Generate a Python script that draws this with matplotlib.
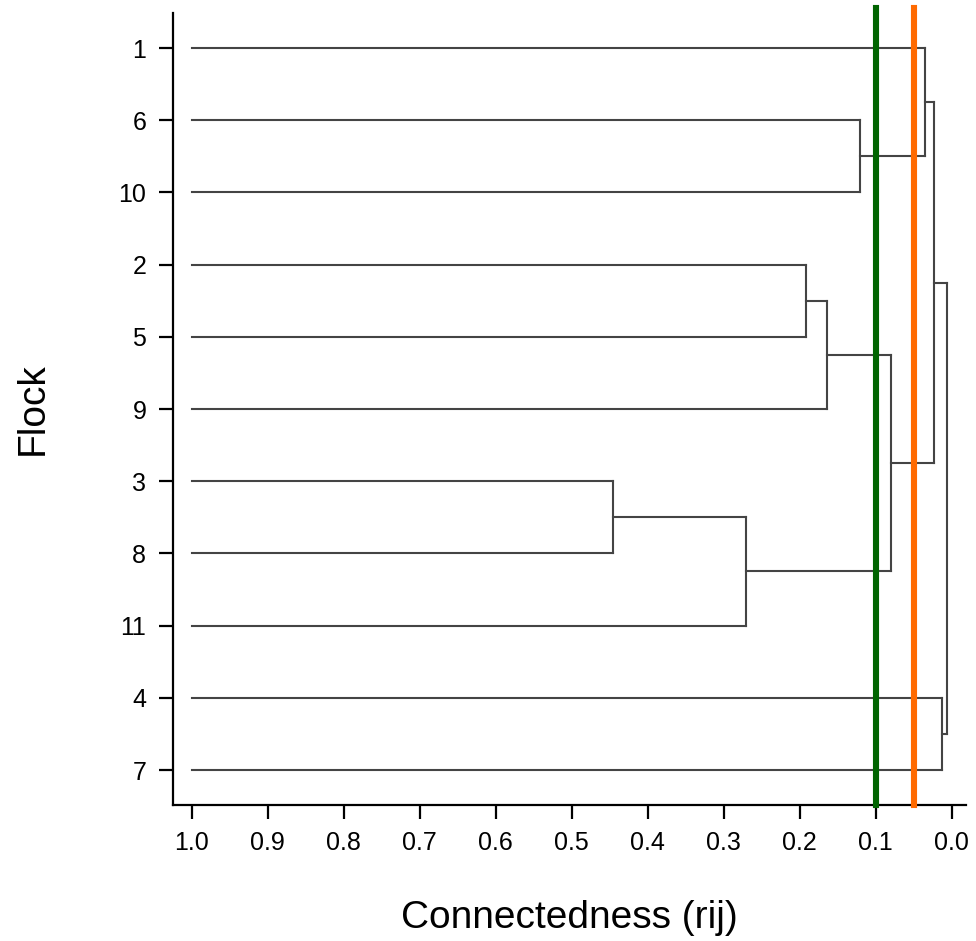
import matplotlib.pyplot as plt

# Dane dendrogramu (kolejnosc lisci od gory)
leaves = ['1', '6', '10', '2', '5', '9', '3', '8', '11', '4', '7']
# polaczenia: (wezel a, wezel b, poziom polaczenia); nowe wezly numerowane od 11
merge_a = [1, 0, 3, 13, 6, 15, 14, 12, 9, 18]
merge_b = [2, 11, 4, 5, 7, 8, 16, 17, 10, 19]
merge_level = [0.120, 0.035, 0.191, 0.164, 0.446, 0.270, 0.080, 0.023, 0.013, 0.006]
cutoffs = [0.10, 0.05]
cutoff_colors = ['#006400', '#ff6a00']

plt.rcParams['font.family'] = ['Liberation Sans', 'DejaVu Sans']

fig = plt.figure(figsize=(9.76, 9.41), dpi=100)
ax = fig.add_axes([0.177, 0.1445, 0.8128, 0.8417])

# pozycje wezlow
node_x = [1.0] * len(leaves)
node_y = list(range(len(leaves)))
for a, b, lev in zip(merge_a, merge_b, merge_level):
    ax.plot([node_x[a], lev], [node_y[a], node_y[a]], color='#444444', lw=1.5)
    ax.plot([node_x[b], lev], [node_y[b], node_y[b]], color='#444444', lw=1.5)
    ax.plot([lev, lev], [node_y[a], node_y[b]], color='#444444', lw=1.5)
    node_x.append(lev)
    node_y.append((node_y[a] + node_y[b]) / 2)

for c, col in zip(cutoffs, cutoff_colors):
    ax.axvline(c, ymin=0, ymax=1.006, color=col, lw=4.4, clip_on=False, zorder=5)

ax.set_xlim(1.0247, -0.019)
ax.set_ylim(10.485, -0.485)
ax.set_xticks([i / 10 for i in range(11)])
ax.set_xticklabels(['%.1f' % (i / 10) for i in range(11)])
ax.set_yticks(range(len(leaves)))
ax.set_yticklabels(leaves)

for s in ['top', 'right']:
    ax.spines[s].set_visible(False)
for s in ['left', 'bottom']:
    ax.spines[s].set_linewidth(1.6)
ax.tick_params(direction='out', length=10, width=1.6, labelsize=18, pad=9)

ax.set_xlabel('Connectedness (rij)', fontsize=28, labelpad=32)
ax.set_ylabel('Flock', fontsize=28, labelpad=49)

fig.savefig('out.png', dpi=100)
